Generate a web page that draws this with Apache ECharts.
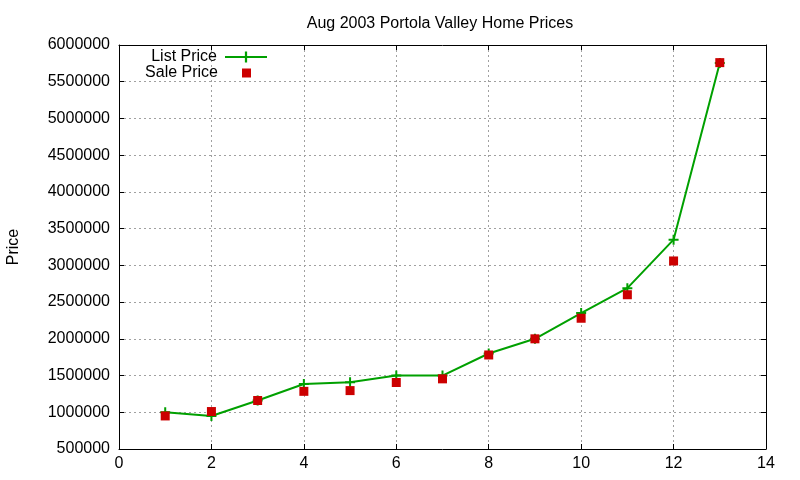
<!DOCTYPE html>
<html>
<head>
<meta charset="utf-8">
<script src="https://cdn.jsdelivr.net/npm/echarts@6/dist/echarts.min.js"></script>
<style>
  html, body { margin: 0; padding: 0; background: #fff; }
  #chart { width: 800px; height: 480px; }
</style>
</head>
<body>
<div id="chart"></div>
<script>
// house index (1..13) and prices
const houses = [1, 2, 3, 4, 5, 6, 7, 8, 9, 10, 11, 12, 13];
const listPrice = [1000000, 950000, 1160000, 1385000, 1410000, 1500000, 1500000, 1800000, 2000000, 2350000, 2690000, 3350000, 5755000];
const salePrice = [950000, 1010000, 1160000, 1285000, 1295000, 1405000, 1455000, 1780000, 2000000, 2280000, 2600000, 3060000, 5760000];
const xTicks = [0, 14, 2];          // min, max, step
const yTicks = [500000, 6000000, 500000];

document.addEventListener("DOMContentLoaded", function () {
  const chart = echarts.init(document.getElementById('chart'));
  const font = 'Liberation Sans, Arial, sans-serif';
  const plus = 'path://M4,0H6V4H10V6H6V10H4V6H0V4H4Z';

  const frame = { show: true, onZero: false, lineStyle: { color: '#000', width: 1 } };
  const tick = { show: true, inside: true, length: 5, lineStyle: { color: '#000' } };
  const grid = { show: true, lineStyle: { color: '#a0a0a0', type: [2, 3], width: 1 } };

  chart.setOption({
    animation: false,
    textStyle: { fontFamily: font },
    title: {
      text: 'Aug 2003 Portola Valley Home Prices',
      left: 435, top: 11, textAlign: 'center',
      textStyle: { fontSize: 16, fontWeight: 'normal', color: '#000', fontFamily: font }
    },
    legend: [
      {
        data: ['List Price'],
        orient: 'vertical', align: 'right',
        right: 527, top: 44,
        itemWidth: 42, itemHeight: 14,
        textStyle: { fontSize: 16, color: '#000', padding: [0, 3, 0, 0] }
      },
      {
        data: [{ name: 'Sale Price', icon: 'rect' }],
        orient: 'vertical', align: 'right',
        right: 544, top: 60,
        itemWidth: 9, itemHeight: 9,
        textStyle: { fontSize: 16, color: '#000', padding: [0, 19, 0, 0] }
      }
    ],
    grid: { left: 119, right: 34, top: 45, bottom: 31, outerBoundsMode: 'none' },
    xAxis: [
      {
        type: 'value', min: xTicks[0], max: xTicks[1], interval: xTicks[2],
        axisLine: frame, axisTick: tick, splitLine: grid,
        axisLabel: { fontSize: 16, color: '#000', margin: 7 }
      },
      {
        type: 'value', position: 'top', min: xTicks[0], max: xTicks[1], interval: xTicks[2],
        axisLine: frame, axisTick: tick, splitLine: { show: false },
        axisLabel: { show: false }
      }
    ],
    yAxis: [
      {
        type: 'value', min: yTicks[0], max: yTicks[1], interval: yTicks[2],
        name: 'Price', nameLocation: 'middle', nameRotate: 90, nameGap: 97,
        nameTextStyle: { fontSize: 16, color: '#000' },
        axisLine: frame, axisTick: tick, splitLine: grid,
        axisLabel: { fontSize: 16, color: '#000', margin: 9, formatter: v => String(v) }
      },
      {
        type: 'value', position: 'right', min: yTicks[0], max: yTicks[1], interval: yTicks[2],
        axisLine: frame, axisTick: tick, splitLine: { show: false },
        axisLabel: { show: false }
      }
    ],
    series: [
      {
        name: 'List Price',
        type: 'line',
        data: houses.map((h, i) => [h, listPrice[i]]),
        symbol: plus, symbolSize: 10,
        lineStyle: { color: '#00a000', width: 2 },
        itemStyle: { color: '#00a000', opacity: 1 },
        z: 2
      },
      {
        name: 'Sale Price',
        type: 'scatter',
        data: houses.map((h, i) => [h, salePrice[i]]),
        symbol: 'rect', symbolSize: 9,
        itemStyle: { color: '#cc0000', opacity: 1 },
        z: 3
      }
    ]
  });
});
</script>
</body>
</html>
